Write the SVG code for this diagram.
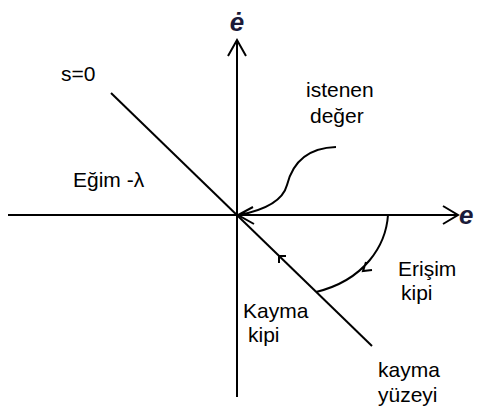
<svg xmlns="http://www.w3.org/2000/svg" width="480" height="417" viewBox="0 0 480 417">
<style>
.ln{stroke:#000;stroke-width:2;fill:none}
.t{font-family:"Liberation Sans",Arial,sans-serif;font-size:21px;fill:#000}
.ax{font-family:"Liberation Sans",Arial,sans-serif;font-size:26px;font-style:italic;font-weight:bold;fill:#1b1b3a}
</style>
<rect width="480" height="417" fill="#fff"/>
<g id="connectors">
<path class="ln" d="M237,397 V40 M228,56 L237,40 L246,56"/>
<path class="ln" d="M8,215 H458 M443,206 L458,215 L443,224"/>
<path class="ln" d="M111,93 L372,346"/>
<path class="ln" d="M286,256 L279,256 L279,263"/>
<path class="ln" d="M336,147 C305,148 292,165 287,185 C283,200 265,210 239,215 M253,207 L238,215 L254,224"/>
<path class="ln" d="M388,215 C386,245 365,280 316,292 M372,270 L363,271 L366,262"/>
</g>
<g id="axis-labels">
<text class="ax" x="237" y="31" text-anchor="middle">ė</text>
<text class="ax" x="459" y="224">e</text>
</g>
<g id="label-s0"><text class="t" x="61" y="81">s=0</text></g>
<g id="label-egim"><text class="t" x="73" y="187">Eğim -λ</text></g>
<g id="label-istenen"><text class="t" x="306" y="97">istenen</text><text class="t" x="310" y="123">değer</text></g>
<g id="label-erisim"><text class="t" x="398" y="276">Erişim</text><text class="t" x="401" y="300">kipi</text></g>
<g id="label-kayma-kipi"><text class="t" x="243" y="318">Kayma</text><text class="t" x="248" y="342">kipi</text></g>
<g id="label-kayma-yuzeyi"><text class="t" x="378" y="377">kayma</text><text class="t" x="378" y="402">yüzeyi</text></g>
</svg>
